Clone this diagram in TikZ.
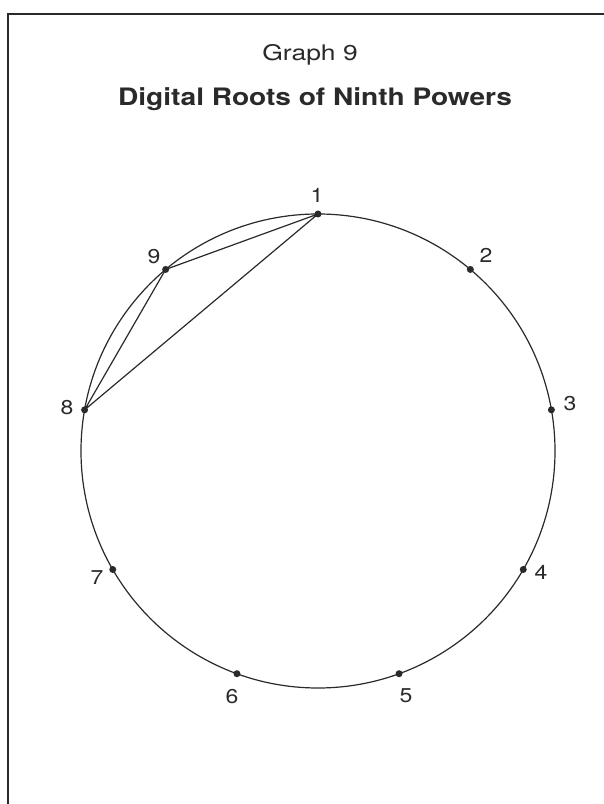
\documentclass[tikz,border=0pt]{standalone}
\usepackage{fontspec}
\setmainfont{TeX Gyre Heros}
\definecolor{ink}{HTML}{2A2A2A}
\begin{document}
\begin{tikzpicture}[x=1pt,y=1pt,
  dot/.style={circle,fill=ink,inner sep=0pt,minimum size=7pt},
  lbl/.style={font=\fontsize{20}{20}\selectfont,text=ink,inner sep=0pt},
  edge/.style={draw=ink,line width=1.2pt},
  frame/.style={draw=ink,line width=1.8pt}]
\useasboundingbox (0,0) rectangle (604,804);
\fill[white] (0,0) rectangle (604,804);
% frame
\coordinate (fb) at (8,0);
\coordinate (fc) at (8,790);
\coordinate (fr) at (604,790);
\draw[frame] (fb) -- (fc) -- (fr);
% titles
\node[font=\fontsize{21.5}{21.5}\selectfont,text=ink,anchor=base] (t1) at (310,743) {\scalebox{1.23}[1]{Graph 9}};
\node[font=\bfseries\fontsize{24}{24}\selectfont,text=ink,anchor=base] (t2) at (315,698) {\scalebox{1.17}[1]{Digital Roots of Ninth Powers}};
% circle
\coordinate (c) at (318,353);
\draw[edge] (c) circle (237);
\foreach \i/\a in {1/90,2/50,3/10,4/-30,5/-70,6/-110,7/-150,8/170,9/130}
  \node[dot] (p\i) at ([shift={(\a:237)}]c) {};
% chords
\draw[edge] (p1.center) -- (p9.center) -- (p8.center) -- cycle;
% labels
\node[lbl] (l1) at (317,609) {\scalebox{1.15}[1]{1}};
\node[lbl] (l2) at (486,549) {\scalebox{1.15}[1]{2}};
\node[lbl] (l3) at (570,400) {\scalebox{1.15}[1]{3}};
\node[lbl] (l4) at (541,232) {\scalebox{1.15}[1]{4}};
\node[lbl] (l5) at (406,108) {\scalebox{1.15}[1]{5}};
\node[lbl] (l6) at (232,107) {\scalebox{1.15}[1]{6}};
\node[lbl] (l7) at (97,226) {\scalebox{1.15}[1]{7}};
\node[lbl] (l8) at (67,396) {\scalebox{1.15}[1]{8}};
\node[lbl] (l9) at (154,547) {\scalebox{1.15}[1]{9}};
\end{tikzpicture}
\end{document}
